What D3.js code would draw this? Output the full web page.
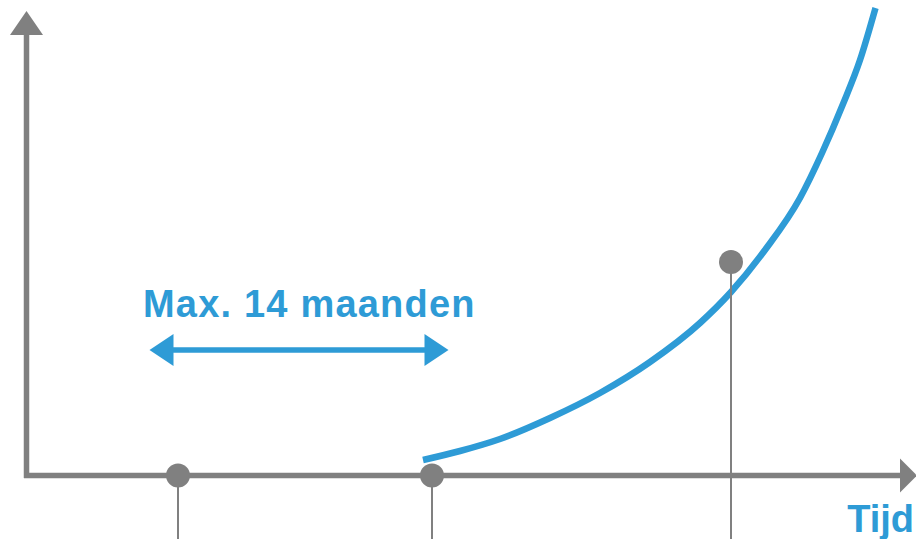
<!DOCTYPE html>
<html>
<head>
<meta charset="utf-8">
<script src="https://cdn.jsdelivr.net/npm/d3@7/dist/d3.min.js"></script>
<style>
html,body{margin:0;padding:0;background:#fff;}
svg{display:block;}
</style>
</head>
<body>
<svg id="chart" width="916" height="539"></svg>
<script>
// Data (units = distance from the origin of the axes)
const curveX = [396.5, 433.5, 473.5, 523.5, 573.5, 623.5, 673.5, 704.5, 738.5, 773.5, 795.5, 816.5, 833.5, 849];
const curveY = [15.5, 24.5, 36.5, 57.5, 82.5, 113.5, 152.5, 183.5, 225.5, 277.5, 322.5, 371.5, 415.5, 467.5];
const markerX = [151.5, 405.5, 704.5];
const markerY = [0, 0, 213.5];
const spanStart = 123;
const spanEnd = 422;
const spanLevel = 125.5;
const spanLabel = "Max. 14 maanden";
const axisLabel = "Tijd";

const W = 916, H = 539;
const ox = 26.5, oy = 475.5;
const gray = "#808080", blue = "#2e9bd6";

const x = d3.scaleLinear().domain([0, W - ox]).range([ox, W]);
const y = d3.scaleLinear().domain([0, oy]).range([oy, 0]);

const svg = d3.select("#chart");

// axes
svg.append("line").attr("x1", x(0)).attr("x2", x(0))
  .attr("y1", y(0) + 2.5).attr("y2", 30)
  .attr("stroke", gray).attr("stroke-width", 5.5);
svg.append("path").attr("d", `M${x(0)},11 L${x(0)-16.5},35 L${x(0)+16.5},35 Z`).attr("fill", gray);

svg.append("line").attr("x1", x(0) - 2.5).attr("x2", 905)
  .attr("y1", y(0)).attr("y2", y(0))
  .attr("stroke", gray).attr("stroke-width", 5.5);
svg.append("path").attr("d", `M917,${y(0)} L900,${y(0)-17} L900,${y(0)+17} Z`).attr("fill", gray);

// curve
const pts = curveX.map((v, i) => [v, curveY[i]]);
svg.append("path")
  .datum(pts)
  .attr("d", d3.line().x(d => x(d[0])).y(d => y(d[1])).curve(d3.curveMonotoneX))
  .attr("fill", "none").attr("stroke", blue).attr("stroke-width", 6.5);

// drop lines + markers
markerX.forEach((mx, i) => {
  svg.append("line").attr("x1", x(mx)).attr("x2", x(mx))
    .attr("y1", y(markerY[i])).attr("y2", H)
    .attr("stroke", gray).attr("stroke-width", 2);
});
markerX.forEach((mx, i) => {
  svg.append("circle").attr("cx", x(mx)).attr("cy", y(markerY[i])).attr("r", 12)
    .attr("fill", gray);
});

// span arrow
const sy = y(spanLevel);
svg.append("line").attr("x1", x(spanStart) + 15).attr("x2", x(spanEnd) - 15)
  .attr("y1", sy).attr("y2", sy).attr("stroke", blue).attr("stroke-width", 5.5);
svg.append("path").attr("d", `M${x(spanStart)},${sy} L${x(spanStart)+24},${sy-16} L${x(spanStart)+24},${sy+16} Z`).attr("fill", blue);
svg.append("path").attr("d", `M${x(spanEnd)},${sy} L${x(spanEnd)-24},${sy-16} L${x(spanEnd)-24},${sy+16} Z`).attr("fill", blue);

svg.append("text").attr("x", 143).attr("y", 316.5)
  .attr("font-family", "Liberation Sans, Arial, sans-serif")
  .attr("font-weight", "bold").attr("font-size", 38)
  .attr("letter-spacing", 1.2)
  .attr("fill", blue).text(spanLabel);

svg.append("text").attr("x", 914).attr("y", 532)
  .attr("text-anchor", "end")
  .attr("font-family", "Liberation Sans, Arial, sans-serif")
  .attr("font-weight", "bold").attr("font-size", 38)
  .attr("fill", blue).text(axisLabel);
</script>
</body>
</html>
